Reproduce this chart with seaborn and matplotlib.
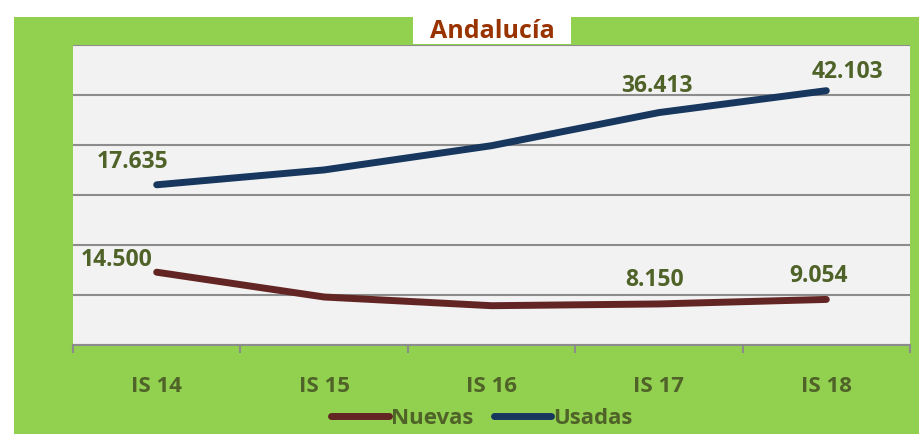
import pandas as pd
import matplotlib.pyplot as plt
import seaborn as sns
from matplotlib.patches import Rectangle
from matplotlib.lines import Line2D

sns.set_style("white")
plt.rcParams["font.family"] = ["Open Sans", "DejaVu Sans"]

# ---- data ----
periodos = ["IS 14", "IS 15", "IS 16", "IS 17", "IS 18"]
nuevas = [14500, 9540, 7800, 8150, 9054]
usadas = [17635, 21500, 27800, 36413, 42103]
etiquetas_nuevas = {0: "14.500", 3: "8.150", 4: "9.054"}
etiquetas_usadas = {0: "17.635", 3: "36.413", 4: "42.103"}

df = pd.DataFrame({"periodo": periodos, "Nuevas": nuevas, "Usadas": usadas})

VERDE = "#92D050"
OLIVA = "#4F6228"
ROJO = "#632523"
AZUL = "#17375E"
GRIS = "#8C8C8C"

fig = plt.figure(figsize=(9.19, 4.35), dpi=100)
fig.patch.set_facecolor("white")
fig.patches.append(Rectangle((14 / 919, 0), 1, (435 - 18) / 435,
                             transform=fig.transFigure, facecolor=VERDE,
                             edgecolor="none", zorder=-10))

ax = fig.add_axes([73 / 919, (435 - 345.7) / 435, 837 / 919, 300 / 435])
ax.set_facecolor("#F2F2F2")
ax2 = ax.twinx()

# Nuevas on primary axis (0 - 60.000), Usadas on hidden secondary axis
sns.lineplot(data=df, x="periodo", y="Nuevas", ax=ax, color=ROJO, lw=5,
             solid_capstyle="round", sort=False)
sns.lineplot(data=df, x="periodo", y="Usadas", ax=ax2, color=AZUL, lw=5,
             solid_capstyle="round", sort=False)

ax.set_ylim(0, 60000)
ax.set_yticks(range(0, 60001, 10000))
ax2.set_ylim(-23940, 54060)
ax.set_xlim(-0.5, 4.5)
ax2.set_xlim(-0.5, 4.5)

ax.grid(axis="y", color=GRIS, lw=1.5)
ax.set_axisbelow(True)
for a in (ax, ax2):
    for s in a.spines.values():
        s.set_visible(False)
    a.set_ylabel("")
    a.set_xlabel("")
ax2.set_yticks([])
ax.tick_params(axis="y", left=False, labelleft=False)
ax.spines["bottom"].set_visible(True)
ax.spines["bottom"].set_color(GRIS)
ax.spines["bottom"].set_linewidth(1.5)

# ticks between categories, labels centred
ax.set_xticks([i - 0.5 for i in range(6)], minor=False)
ax.set_xticklabels([])
ax.tick_params(axis="x", which="major", bottom=True, length=6, width=1.5,
               color=GRIS, direction="out")
ax.set_xticks(range(5), minor=True)
ax.set_xticklabels(periodos, minor=True, fontsize=16, fontweight="bold",
                   color=OLIVA)
ax.tick_params(axis="x", which="minor", bottom=True, length=0, pad=22)

# data labels
off_n = {0: (-40, 13), 3: (-4, 25), 4: (-8, 24)}
off_u = {0: (-24, 24), 3: (-2, 28), 4: (21, 20)}
for i, t in etiquetas_nuevas.items():
    ax.annotate(t, (i, nuevas[i]), xytext=off_n[i], textcoords="offset pixels",
                ha="center", va="center", fontsize=16.5, fontweight="bold",
                color=OLIVA)
for i, t in etiquetas_usadas.items():
    ax2.annotate(t, (i, usadas[i]), xytext=off_u[i], textcoords="offset pixels",
                 ha="center", va="center", fontsize=16.5, fontweight="bold",
                 color=OLIVA)

# title in white box
fig.patches.append(Rectangle((413 / 919, (435 - 44.5) / 435), 158 / 919,
                             (44.5 - 18) / 435, transform=fig.transFigure,
                             facecolor="white", edgecolor="none", zorder=5))
fig.text(492 / 919, (435 - 31) / 435, "Andalucía", ha="center", va="center",
         fontsize=18, fontweight="bold", color="#993300", zorder=6)

# legend
handles = [Line2D([], [], color=ROJO, lw=5, solid_capstyle="round"),
           Line2D([], [], color=AZUL, lw=5, solid_capstyle="round")]
leg = fig.legend(handles, ["Nuevas", "Usadas"], loc="center",
                 bbox_to_anchor=(482 / 919, (435 - 419) / 435), ncol=2,
                 frameon=False, handlelength=2.6, handletextpad=0.1,
                 columnspacing=0.9, prop={"size": 16, "weight": "bold"})
for t in leg.get_texts():
    t.set_color(OLIVA)

fig.savefig("out.png", dpi=100)
